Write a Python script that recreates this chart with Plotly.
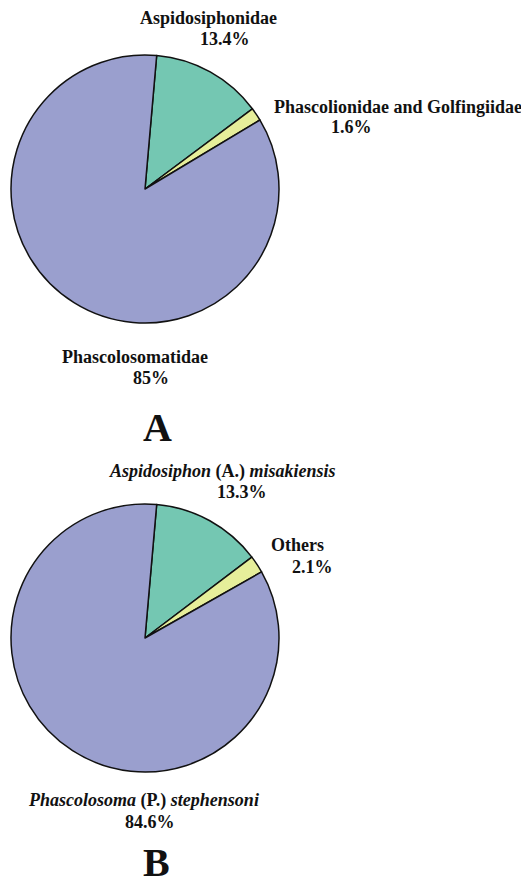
import plotly.graph_objects as go

# page is rendered with an 8px body margin; figure is sized to fit the window
PAGE_W, PAGE_H = 529, 884
OFF = 8
W, H = PAGE_W - OFF, PAGE_H - OFF

# Data
labels_a = ["Aspidosiphonidae", "Phascolionidae and Golfingiidae", "Phascolosomatidae"]
values_a = [13.4, 1.6, 85.0]
pct_a = ["13.4%", "1.6%", "85%"]

labels_b = ["<i>Aspidosiphon</i> (A.) <i>misakiensis</i>", "Others",
            "<i>Phascolosoma</i> (P.) <i>stephensoni</i>"]
values_b = [13.3, 2.1, 84.6]
pct_b = ["13.3%", "2.1%", "84.6%"]

panel_letters = ["A", "B"]

colors = ["#74c7b2", "#e6ee9a", "#9a9fce"]


def px_x(x):
    return (x - OFF) / W


def px_y(y):
    return 1 - (y - OFF) / H


fig = go.Figure()

# pie geometry (page pixel center & radius)
pies = [
    dict(vals=values_a, labs=labels_a, cx=145, cy=189, r=134),
    dict(vals=values_b, labs=labels_b, cx=145, cy=638, r=134),
]
for p in pies:
    fig.add_trace(go.Pie(
        values=p["vals"],
        labels=p["labs"],
        sort=False,
        direction="clockwise",
        rotation=5,
        textinfo="none",
        hoverinfo="label+percent",
        marker=dict(colors=colors, line=dict(color="#111111", width=1.5)),
        domain=dict(x=[px_x(p["cx"] - p["r"]), px_x(p["cx"] + p["r"])],
                    y=[px_y(p["cy"] + p["r"]), px_y(p["cy"] - p["r"])]),
        showlegend=False,
    ))

font = dict(family="Liberation Serif, Times New Roman, serif", size=18, color="#111111")

# label placements (page pixel coords): (name_x, name_y, pct_x, pct_y)
place_a = [(208, 18, 225, 39), (398, 107, 351, 127), (135, 357, 151, 378)]
place_b = [(222, 471, 242, 492), (297, 545, 312, 567), (143, 800, 150, 822)]

anns = []
for labs, pcts, places in [(labels_a, pct_a, place_a), (labels_b, pct_b, place_b)]:
    for lab, pc, (nx, ny, qx, qy) in zip(labs, pcts, places):
        anns.append(dict(x=px_x(nx), y=px_y(ny), xref="paper", yref="paper",
                         text="<b>" + lab + "</b>", showarrow=False,
                         xanchor="center", yanchor="middle", font=font))
        anns.append(dict(x=px_x(qx), y=px_y(qy), xref="paper", yref="paper",
                         text="<b>" + pc + "</b>", showarrow=False,
                         xanchor="center", yanchor="middle", font=font))

for letter, (lx, ly) in zip(panel_letters, [(157, 428), (156, 862)]):
    anns.append(dict(x=px_x(lx), y=px_y(ly), xref="paper", yref="paper",
                     text="<b>" + letter + "</b>", showarrow=False,
                     xanchor="center", yanchor="middle",
                     font=dict(family="Liberation Serif, Times New Roman, serif",
                               size=40, color="#111111")))

fig.update_layout(
    width=W, height=H, autosize=False,
    margin=dict(l=0, r=0, t=0, b=0),
    paper_bgcolor="white", plot_bgcolor="white",
    annotations=anns,
)

fig.write_html("out.html")
